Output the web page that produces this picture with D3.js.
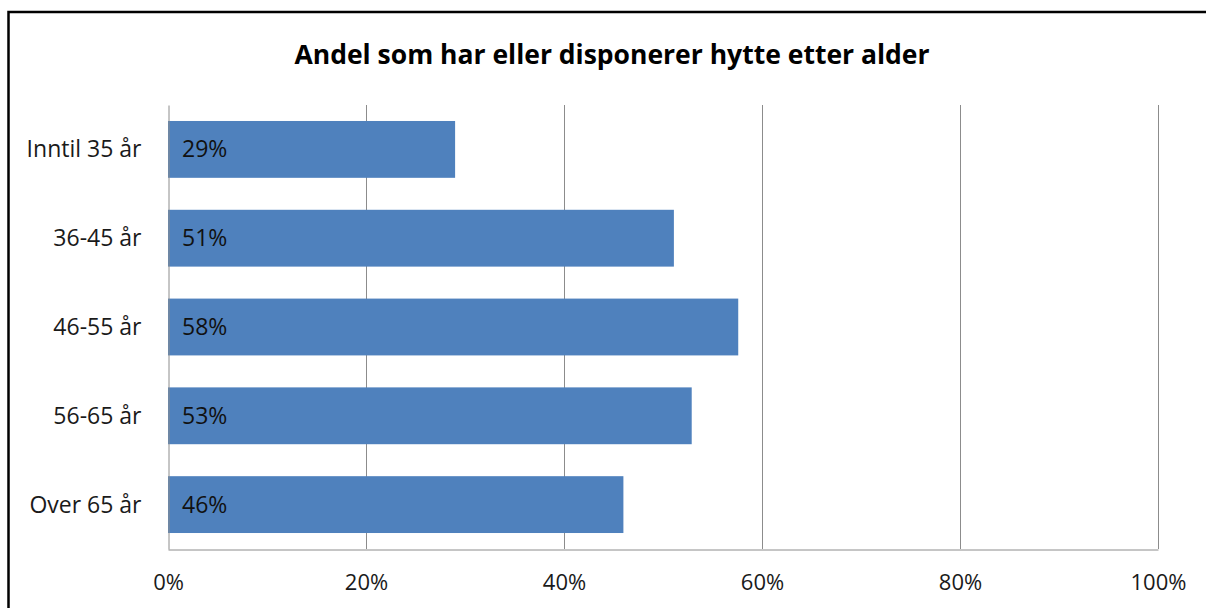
<!DOCTYPE html>
<html><head><meta charset="utf-8">
<script src="https://cdn.jsdelivr.net/npm/d3@7"></script>
<style>body{margin:0;background:#fff}svg{display:block}</style>
</head><body>
<svg id="c" width="1206" height="608"></svg>
<script>
const categories = ["Inntil 35 år", "36-45 år", "46-55 år", "56-65 år", "Over 65 år"];
const values = [0.29, 0.511, 0.576, 0.529, 0.46];
const ticks = [0, 0.2, 0.4, 0.6, 0.8, 1.0];
const title = "Andel som har eller disponerer hytte etter alder";

const svg = d3.select("#c");
const font = "'Open Sans', sans-serif";
// outer frame
svg.append("rect").attr("x", 8.5).attr("y", 12).attr("width", 1300).attr("height", 700)
  .attr("fill", "none").attr("stroke", "#000").attr("stroke-width", 2.5);

const x = d3.scaleLinear().domain([0, 1]).range([168, 1158]);
const y = d3.scaleBand().domain(categories).range([105, 549]).paddingInner(0.36).paddingOuter(0.18);

// gridlines
svg.append("g").selectAll("line").data(ticks.slice(1)).join("line")
  .attr("x1", d => Math.round(x(d)) + 0.5).attr("x2", d => Math.round(x(d)) + 0.5)
  .attr("y1", 105).attr("y2", 549).attr("stroke", "#8c8c8c").attr("stroke-width", 1);

// bars
svg.append("g").selectAll("rect").data(values).join("rect")
  .attr("x", x(0)).attr("y", (d, i) => y(categories[i]))
  .attr("width", d => x(d) - x(0)).attr("height", y.bandwidth())
  .attr("fill", "#4f81bd");

// axes
const xAxis = d3.axisBottom(x).tickValues(ticks).tickFormat(d3.format(".0%")).tickSize(0).tickPadding(0);
const gx = svg.append("g").attr("transform", "translate(0,549.5)").call(xAxis);
gx.select(".domain").attr("stroke", "#8c8c8c");
gx.selectAll("text").attr("dy", null).attr("y", 40.5).attr("font-family", font).attr("font-size", 22).attr("fill", "#1a1a1a");

const yAxis = d3.axisLeft(y).tickSize(0).tickPadding(0);
const gy = svg.append("g").attr("transform", "translate(168.5,0)").call(yAxis);
gy.select(".domain").attr("stroke", "#8c8c8c");
gy.selectAll("text").attr("x", -27).attr("dy", "0.35em").attr("font-family", font).attr("font-size", 23).attr("fill", "#1a1a1a");

// value labels
svg.append("g").selectAll("text").data(values).join("text")
  .attr("x", x(0) + 14).attr("y", (d, i) => y(categories[i]) + y.bandwidth() / 2)
  .attr("dy", "0.35em").attr("font-family", font).attr("font-size", 23).attr("fill", "#111")
  .text(d => d3.format(".0%")(d));

svg.append("text").attr("x", 612).attr("y", 64).attr("text-anchor", "middle")
  .attr("font-family", font).attr("font-weight", "bold").attr("font-size", 26.5).attr("fill", "#000")
  .text(title);
</script>
</body></html>
